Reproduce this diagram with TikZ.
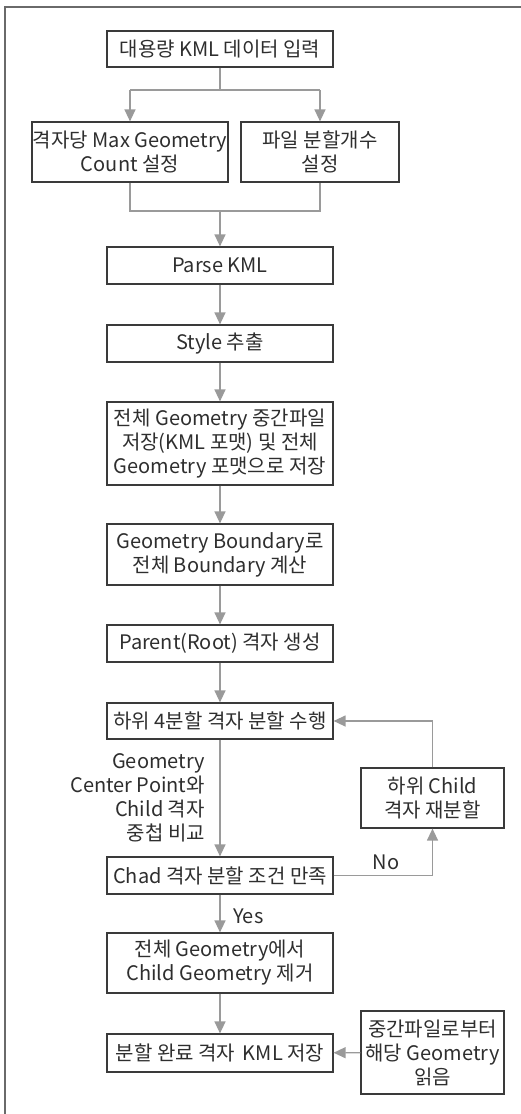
\documentclass[tikz,border=0pt]{standalone}
\usepackage{fontspec}
\setmainfont{Noto Sans CJK KR}
\usetikzlibrary{arrows.meta}
\definecolor{boxline}{HTML}{3A3A3A}
\definecolor{conn}{HTML}{9A9A9A}
\definecolor{txt}{HTML}{2E2E2E}
\definecolor{frame}{HTML}{6A6A6A}
\begin{document}
\begin{tikzpicture}[x=1pt,y=-1pt,
  font=\fontsize{20}{24}\selectfont,
  proc/.style={draw=boxline,line width=1.2pt,text=txt,align=center,inner sep=0pt,
     minimum width=#1},
  proc/.default=226pt,
  conn/.style={draw=conn,line width=1.3pt},
  arr/.style={conn,-{Triangle[width=11pt,length=12pt]}},
  lbl/.style={text=txt,inner sep=0pt}]
\useasboundingbox (0,0) rectangle (520,1114);
\draw[frame,line width=1.5pt] (5,1116) -- (5,7) -- (522,7);

\node[proc,minimum height=36pt] (b1) at (220,49) {대용량 KML 데이터 입력};
\node[proc=196pt,minimum height=60pt] (b2) at (130,152) {격자당 Max Geometry\\Count 설정};
\node[proc=158pt,minimum height=60pt] (b3) at (320,152) {파일 분할개수\\설정};
\node[proc,minimum height=37pt] (b4) at (220,265.5) {Parse KML};
\node[proc,minimum height=37pt] (b5) at (220,343.5) {Style 추출};
\node[proc,minimum height=83pt] (b6) at (220,443.5) {전체 Geometry 중간파일\\저장(KML 포맷) 및 전체\\Geometry 포맷으로 저장};
\node[proc,minimum height=61pt] (b7) at (220,554.5) {Geometry Boundary로\\전체 Boundary 계산};
\node[proc,minimum height=37pt] (b8) at (220,643.5) {Parent(Root) 격자 생성};
\node[proc,minimum height=36pt] (b9) at (220,721) {하위 4분할 격자 분할 수행};
\node[proc,minimum height=37pt] (b10) at (220,875.5) {Chad 격자 분할 조건 만족};
\node[proc=143pt,minimum height=60pt] (b11) at (432.5,798) {하위 Child\\격자 재분할};
\node[proc,minimum height=60pt] (b12) at (220,963) {전체 Geometry에서\\Child Geometry 제거};
\node[proc,minimum height=38pt] (b13) at (220,1053) {분할 완료 격자 \,KML 저장};
\node[proc=143pt,minimum height=83pt] (b14) at (432.5,1052.5) {중간파일로부터\\해당 Geometry\\읽음};

\coordinate (f1) at (220,90);
\coordinate (f1l) at (130,90);
\coordinate (f1r) at (320,90);
\coordinate (m1) at (220,211);
\coordinate (m1l) at (130,211);
\coordinate (m1r) at (320,211);

\draw[conn] (b1.south) -- (f1);
\draw[conn] (f1l) -- (f1r);
\draw[arr] (f1l) -- (b2.north);
\draw[arr] (f1r) -- (b3.north);
\draw[conn] (b2.south) -- (m1l) -- (m1r) -- (b3.south);
\draw[arr] (m1) -- (b4.north);
\draw[arr] (b4) -- (b5);
\draw[arr] (b5) -- (b6);
\draw[arr] (b6) -- (b7);
\draw[arr] (b7) -- (b8);
\draw[arr] (b8) -- (b9);
\draw[arr] (b9) -- (b10);
\draw[arr] (b10.east) -| (b11.south);
\draw[arr] (b11.north) |- (b9.east);
\draw[arr] (b10) -- (b12);
\draw[arr] (b12) -- (b13);
\draw[arr] (b14) -- (b13);

\node[lbl,anchor=east,align=right] (c1) at (205,798) {Geometry\\Center Point와\\Child 격자\\중첩 비교};
\node[lbl,anchor=center] (no) at (386,862) {No};
\node[lbl,anchor=west] (yes) at (233,916) {Yes};
\end{tikzpicture}
\end{document}
